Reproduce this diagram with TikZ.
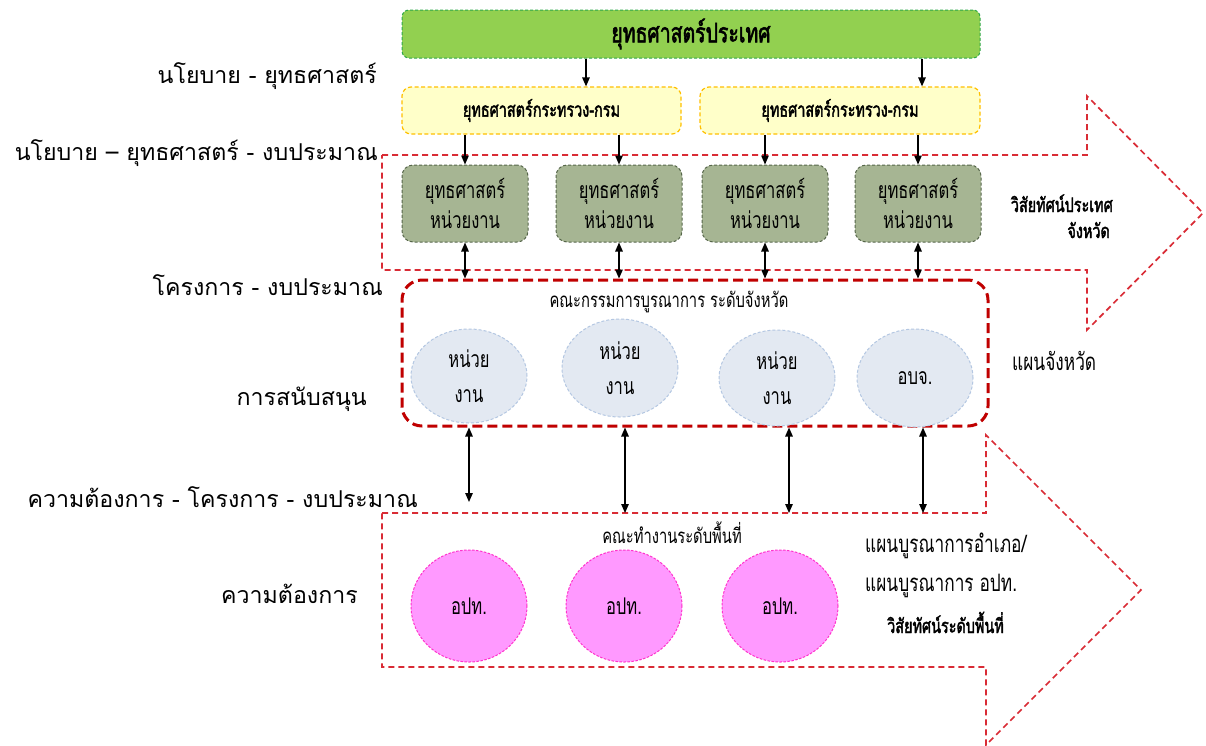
\documentclass[tikz,border=0pt]{standalone}
\usepackage{fontspec}
\newfontfamily\thai[Script=Thai]{Loma}
\newfontfamily\thain[Script=Thai,FakeStretch=0.72]{Loma}
\newfontfamily\thainb[Script=Thai,FakeStretch=0.72,FakeBold=2]{Loma}
\usetikzlibrary{arrows.meta,shapes.geometric}
\definecolor{arrowred}{HTML}{D92B35}
\definecolor{boxred}{HTML}{C00000}
\definecolor{gfill}{HTML}{92D050}
\definecolor{gline}{HTML}{2EA84A}
\definecolor{yfill}{HTML}{FFFFC9}
\definecolor{yline}{HTML}{FFC000}
\definecolor{ofill}{HTML}{A6B593}
\definecolor{oline}{HTML}{56664A}
\definecolor{bfill}{HTML}{E3E9F2}
\definecolor{bline}{HTML}{B4C7E2}
\definecolor{pfill}{HTML}{FF99FF}
\definecolor{pline}{HTML}{FF33CC}
\tikzset{
  redarrow/.style={draw=arrowred, line width=1.7pt, dash pattern=on 6pt off 4pt},
  gbox/.style={draw=gline, fill=gfill, line width=1pt, dash pattern=on 3pt off 2pt, rounded corners=7pt, font=\thainb\fontsize{27}{30}\selectfont},
  ybox/.style={draw=yline, fill=yfill, line width=1.2pt, dash pattern=on 4pt off 2.5pt, rounded corners=9pt, minimum height=47pt, font=\thainb\fontsize{20}{24}\selectfont},
  obox/.style={draw=oline, fill=ofill, line width=1pt, dash pattern=on 3pt off 2pt, rounded corners=11pt, minimum width=126pt, minimum height=77pt, align=center, font=\thain\fontsize{23}{30}\selectfont},
  bell/.style={ellipse, draw=bline, fill=bfill, line width=1pt, dash pattern=on 3pt off 2pt, minimum width=116pt, inner sep=0pt, align=center, font=\thain\fontsize{23}{35}\selectfont},
  pell/.style={ellipse, draw=pline, fill=pfill, line width=1pt, dash pattern=on 2.5pt off 1.5pt, minimum width=116pt, minimum height=112pt, inner sep=0pt, font=\thain\fontsize{23}{26}\selectfont},
  rbox/.style={draw=boxred, line width=3pt, dash pattern=on 10pt off 5pt, rounded corners=20pt, minimum width=586pt, minimum height=146pt},
  lbl/.style={inner sep=0pt, font=\thai\fontsize{23.2}{28}\selectfont},
  rlbl/.style={inner sep=0pt, font=\thain\fontsize{24}{28}\selectfont},
  rlblb/.style={inner sep=0pt, font=\thainb\fontsize{20}{24}\selectfont},
  tlbl/.style={inner sep=0pt, font=\thain\fontsize{20.5}{24}\selectfont},
  arr/.style={-{Triangle[length=9pt,width=7.5pt]}, line width=1.3pt},
  darr/.style={{Triangle[length=9pt,width=7.5pt]}-{Triangle[length=9pt,width=7.5pt]}, line width=1.3pt}
}
\begin{document}
\begin{tikzpicture}[x=1pt,y=-1pt]
\useasboundingbox[fill=white] (0,0) rectangle (1206,745);

% big dashed arrow outlines
\draw[redarrow] (382,155) -- (1087,155) -- (1087,96) -- (1203,213) -- (1087,330) -- (1087,270) -- (382,270) -- cycle;
\draw[redarrow] (382,513) -- (986,513) -- (986,435) -- (1141,590) -- (986,745) -- (986,667) -- (382,667) -- cycle;

% top boxes
\node[gbox, minimum width=578pt, minimum height=48pt] (g) at (691,34) {ยุทธศาสตร์ประเทศ};
\node[ybox, minimum width=279pt] (yl) at (541.5,110.5) {ยุทธศาสตร์กระทรวง-กรม};
\node[ybox, minimum width=280pt] (yr) at (840,110.5) {ยุทธศาสตร์กระทรวง-กรม};

\node[obox] (d1) at (465,203.5) {ยุทธศาสตร์\\หน่วยงาน};
\node[obox] (d2) at (619,203.5) {ยุทธศาสตร์\\หน่วยงาน};
\node[obox] (d3) at (765,203.5) {ยุทธศาสตร์\\หน่วยงาน};
\node[obox] (d4) at (918,203.5) {ยุทธศาสตร์\\หน่วยงาน};

% provincial committee box
\node[rbox] (rb) at (695,353) {};
\node[tlbl] (rbt) at (669,302) {คณะกรรมการบูรณาการ ระดับจังหวัด};
\node[bell, minimum height=94pt] (e1) at (469,376) {หน่วย\\งาน};
\node[bell, minimum height=98pt] (e2) at (620,368) {หน่วย\\งาน};
\node[bell, minimum height=96pt] (e3) at (777,378) {หน่วย\\งาน};
\node[bell, minimum height=98pt, font=\thain\fontsize{23}{26}\selectfont] (e4) at (915,378) {อบจ.};

% local level
\node[tlbl] (lt) at (672,533) {คณะทำงานระดับพื้นที่};
\node[pell] (p1) at (469,606) {อปท.};
\node[pell] (p2) at (624,606) {อปท.};
\node[pell] (p3) at (780,606) {อปท.};

% arrows green -> yellow
\coordinate (ga1) at (586,70);
\coordinate (ga2) at (922,70);
\draw[arr] (g.south -| ga1) -- (yl.north -| ga1);
\draw[arr] (g.south -| ga2) -- (yr.north -| ga2);

% arrows yellow -> unit strategies
\draw[arr] (yl.south -| d1.north) -- (d1.north);
\draw[arr] (yl.south -| d2.north) -- (d2.north);
\draw[arr] (yr.south -| d3.north) -- (d3.north);
\draw[arr] (yr.south -| d4.north) -- (d4.north);

% double arrows unit strategies <-> committee
\draw[darr] (d1.south) -- (d1.south |- rb.north);
\draw[darr] (d2.south) -- (d2.south |- rb.north);
\draw[darr] (d3.south) -- (d3.south |- rb.north);
\draw[darr] (d4.south) -- (d4.south |- rb.north);

% double arrows committee <-> local level
\coordinate (la1) at (469,502);
\coordinate (la2) at (625,513);
\coordinate (la3) at (789,513);
\coordinate (la4) at (923,513);
\draw[darr] (rb.south -| la1) -- (la1);
\draw[darr] (rb.south -| la2) -- (la2);
\draw[darr] (rb.south -| la3) -- (la3);
\draw[darr] (rb.south -| la4) -- (la4);

% left labels
\node[lbl, anchor=base east] (l1) at (377,83) {นโยบาย - ยุทธศาสตร์};
\node[lbl, anchor=base east] (l2) at (378,160) {นโยบาย – ยุทธศาสตร์ - งบประมาณ};
\node[lbl, anchor=base east] (l3) at (383,295) {โครงการ - งบประมาณ};
\node[lbl, anchor=base east] (l4) at (367,405) {การสนับสนุน};
\node[lbl, anchor=base east] (l5) at (418,507) {ความต้องการ - โครงการ - งบประมาณ};
\node[lbl, anchor=base east] (l6) at (358,603) {ความต้องการ};

% right labels
\node[rlblb, anchor=base east] (r1) at (1113,212) {วิสัยทัศน์ประเทศ};
\node[rlblb, anchor=base east] (r2) at (1110,238) {จังหวัด};
\node[rlbl, anchor=base west] (r3) at (1012,370) {แผนจังหวัด};
\node[rlbl, anchor=base west] (r4) at (865,552) {แผนบูรณาการอำเภอ/};
\node[rlbl, anchor=base west] (r5) at (865,591) {แผนบูรณาการ อปท.};
\node[rlblb, anchor=base west] (r6) at (887,633) {วิสัยทัศน์ระดับพื้นที่};
\end{tikzpicture}
\end{document}
